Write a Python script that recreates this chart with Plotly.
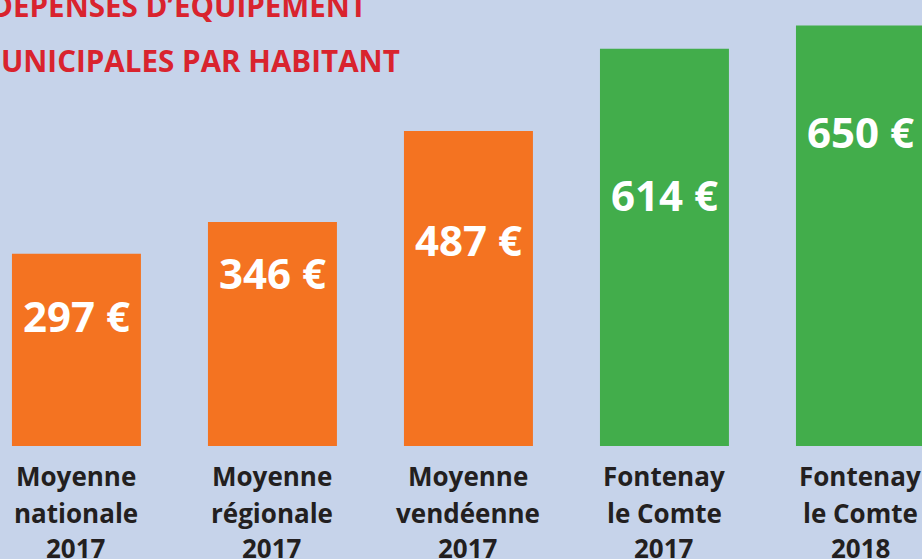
import plotly.graph_objects as go

categories = [["Moyenne", "nationale", "2017"], ["Moyenne", "régionale", "2017"],
              ["Moyenne", "vendéenne", "2017"], ["Fontenay", "le Comte", "2017"],
              ["Fontenay", "le Comte", "2018"]]
values = [297, 346, 487, 614, 650]
value_labels = ["297 €", "346 €", "487 €", "614 €", "650 €"]
title_line1 = "DÉPENSES D’ÉQUIPEMENT"
title_line2 = "MUNICIPALES PAR HABITANT"

ORANGE = "#f47321"
GREEN = "#42ad4b"
BG = "#c6d3ea"
RED = "#d9232e"
DARK = "#231f20"
FONT = "Open Sans"

bar_colors = [ORANGE, ORANGE, ORANGE, GREEN, GREEN]
label_shift = [-62, -50, -109, -146, -106]
line_shift = [-30, -67, -102]

x_idx = list(range(len(categories)))

fig = go.Figure()
fig.add_trace(go.Bar(
    x=x_idx, y=values, width=0.658,
    marker=dict(color=bar_colors, line=dict(width=0)),
    hoverinfo="skip",
))

annotations = []
for i, (v, t, s) in enumerate(zip(values, value_labels, label_shift)):
    annotations.append(dict(
        x=i, y=v, xref="x", yref="y", text="<b>" + t + "</b>",
        showarrow=False, yanchor="middle", xanchor="center", yshift=s,
        font=dict(family=FONT, size=42, color="white"),
    ))
for i, lines in enumerate(categories):
    for line, ls in zip(lines, line_shift):
        annotations.append(dict(
            x=i, y=0, xref="x", yref="y", text="<b>" + line + "</b>",
            showarrow=False, yanchor="middle", xanchor="center", yshift=ls,
            font=dict(family=FONT, size=26, color=DARK),
        ))

W, H = 922, 559
annotations.append(dict(
    x=369 / W, y=1 - 28 / H, xref="paper", yref="paper", text="<b>" + title_line1 + "</b>",
    showarrow=False, xanchor="right", yanchor="bottom",
    font=dict(family=FONT, size=29.6, color=RED),
))
annotations.append(dict(
    x=402 / W, y=1 - 83 / H, xref="paper", yref="paper", text="<b>" + title_line2 + "</b>",
    showarrow=False, xanchor="right", yanchor="bottom",
    font=dict(family=FONT, size=29.6, color=RED),
))

fig.update_layout(
    width=W, height=H,
    margin=dict(l=0, r=0, t=0, b=0),
    paper_bgcolor=BG, plot_bgcolor=BG,
    showlegend=False,
    xaxis=dict(range=[-0.390, 4.314], visible=False, fixedrange=True),
    yaxis=dict(range=[-174.7, 689.3], visible=False, fixedrange=True),
    annotations=annotations,
)

fig.write_html("out.html", config={"displayModeBar": False},
               post_script="document.body.style.margin='0';document.body.style.padding='0';")
